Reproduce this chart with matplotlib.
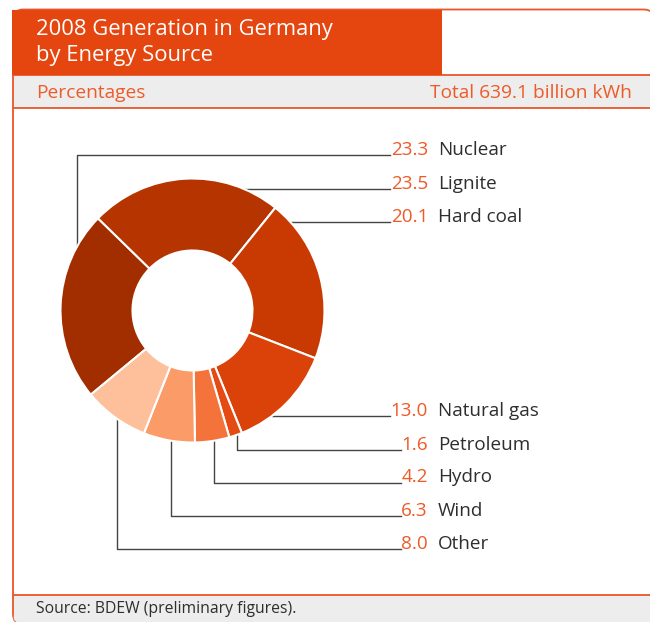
import numpy as np
import matplotlib
matplotlib.use("Agg")
import matplotlib.pyplot as plt
from matplotlib.patches import Rectangle, FancyBboxPatch

# ---- data ----
categories = ["Nuclear", "Lignite", "Hard coal", "Natural gas", "Petroleum", "Hydro", "Wind", "Other"]
values = [23.3, 23.5, 20.1, 13.0, 1.6, 4.2, 6.3, 8.0]
value_labels = ["23.3", "23.5", "20.1", "13.0", "1.6", "4.2", "6.3", "8.0"]
title_lines = ["2008 Generation in Germany", "by Energy Source"]
subtitle_left = "Percentages"
subtitle_right = "Total 639.1 billion kWh"
source_text = "Source: BDEW (preliminary figures)."

# ---- styles / layout ----
colors = ["#A22E00", "#B53400", "#C83A02", "#DA4209", "#E44A12", "#F4733A", "#FB9B67", "#FDC09B"]
ORANGE = "#E5450F"
LINE_OR = "#E8562A"
NUM_COL = "#EE5A28"
TXT_COL = "#2E2E2E"
GRAY = "#ECEDEC"
W, H = 650, 622
CX, CY, R, RIN = 192.5, 310.5, 132, 60
rows = [155, 189, 221.5, 416, 449.5, 482.5, 516, 549]
leader_kind = ["v", "h", "h", "h", "v", "v", "v", "v"]
leader_x = [77, None, None, None, 237, 214, 170.5, 117]
LBL_FS = 13.6

FONT = ["Open Sans", "DejaVu Sans"]
plt.rcParams["font.family"] = FONT

fig = plt.figure(figsize=(W / 100, H / 100), dpi=100)
ax = fig.add_axes([0, 0, 1, 1])


def Y(y):
    return H - y


# ---- frame ----
frame = FancyBboxPatch((13, Y(624)), 641, 614.5, boxstyle="round,pad=0,rounding_size=10",
                       fc="white", ec=LINE_OR, lw=1.3, zorder=1)
ax.add_patch(frame)
bottom_band = Rectangle((13, Y(630)), 645, 35, fc=GRAY, ec=LINE_OR, lw=1.3, zorder=1.5)
ax.add_patch(bottom_band)
bottom_band.set_clip_path(frame)
sub_band = Rectangle((13, Y(108)), 645, 33, fc=GRAY, ec=LINE_OR, lw=1.3, zorder=2)
ax.add_patch(sub_band)
sub_band.set_clip_path(frame)
ax.add_patch(Rectangle((12.3, Y(75)), 429.7, 65.5, fc=ORANGE, ec="none", zorder=3))

# ---- texts ----
ax.text(36, Y(29.5), title_lines[0], color="white", fontsize=15.8, va="center", ha="left", zorder=4)
ax.text(36, Y(56), title_lines[1], color="white", fontsize=15.8, va="center", ha="left", zorder=4)
ax.text(36, Y(92.5), subtitle_left, color=NUM_COL, fontsize=13.8, va="center", ha="left", zorder=4)
ax.text(632, Y(92.5), subtitle_right, color=NUM_COL, fontsize=13.8, va="center", ha="right", zorder=4)
ax.text(36, Y(609), source_text, color=TXT_COL, fontsize=11.3, va="center", ha="left", zorder=4)

# ---- donut ----
start = 219.6
wedges, _ = ax.pie(values, colors=colors, startangle=start, counterclock=False,
                   center=(CX, Y(CY)), radius=R, frame=True,
                   wedgeprops=dict(width=R - RIN, edgecolor="white", linewidth=1.5))
for w in wedges:
    w.set_zorder(3)
ax.set_xlim(0, W)
ax.set_ylim(0, H)
ax.set_aspect("auto")
ax.axis("off")

# ---- labels ----
num_texts = []
for i, cat in enumerate(categories):
    ly = rows[i]
    t = ax.text(428, Y(ly - 5), value_labels[i], color=NUM_COL, fontsize=LBL_FS,
                ha="right", va="center", zorder=4)
    num_texts.append(t)
    ax.text(438, Y(ly - 5), cat, color=TXT_COL, fontsize=LBL_FS,
            ha="left", va="center", zorder=4)

fig.canvas.draw()
inv = ax.transData.inverted()
r = fig.canvas.get_renderer()

# ---- leaders ----
for i, cat in enumerate(categories):
    ly = rows[i]
    bb = num_texts[i].get_window_extent(renderer=r)
    xend = inv.transform((bb.x0, 0))[0] - 0.5
    if leader_kind[i] == "h":
        dy = ly - CY
        x0 = CX + np.sqrt(R ** 2 - dy ** 2)
        ax.plot([x0, xend], [Y(ly), Y(ly)], color="#444444", lw=1.0, zorder=2)
    else:
        lx = leader_x[i]
        dx = lx - CX
        dyc = np.sqrt(R ** 2 - dx ** 2)
        y0 = CY - dyc if ly < CY else CY + dyc
        ax.plot([lx, lx, xend], [Y(y0), Y(ly), Y(ly)], color="#444444", lw=1.0, zorder=2)

fig.savefig("out.png", dpi=100)
